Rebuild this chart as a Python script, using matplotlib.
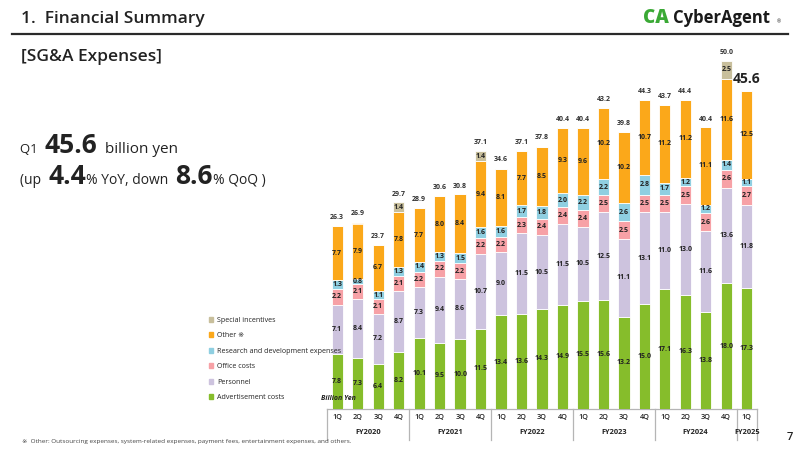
import matplotlib
matplotlib.use('Agg')
import matplotlib.pyplot as plt
import matplotlib.patches as mpatches
import matplotlib.transforms as mtransforms
import numpy as np

# Data (billion yen)
quarters = ['1Q', '2Q', '3Q', '4Q'] * 5 + ['1Q']
fiscal_years = ['FY2020', 'FY2021', 'FY2022', 'FY2023', 'FY2024', 'FY2025']
advertisement = [7.8, 7.3, 6.4, 8.2, 10.1, 9.5, 10.0, 11.5, 13.4, 13.6, 14.3, 14.9,
                 15.5, 15.6, 13.2, 15.0, 17.1, 16.3, 13.8, 18.0, 17.3]
personnel = [7.1, 8.4, 7.2, 8.7, 7.3, 9.4, 8.6, 10.7, 9.0, 11.5, 10.5, 11.5,
             10.5, 12.5, 11.1, 13.1, 11.0, 13.0, 11.6, 13.6, 11.8]
office = [2.2, 2.1, 2.1, 2.1, 2.2, 2.2, 2.2, 2.2, 2.2, 2.3, 2.4, 2.4,
          2.4, 2.5, 2.5, 2.5, 2.5, 2.5, 2.6, 2.6, 2.7]
rnd = [1.3, 0.8, 1.1, 1.3, 1.4, 1.3, 1.5, 1.6, 1.6, 1.7, 1.8, 2.0,
       2.2, 2.2, 2.6, 2.8, 1.7, 1.2, 1.2, 1.4, 1.1]
other = [7.7, 7.9, 6.7, 7.8, 7.7, 8.0, 8.4, 9.4, 8.1, 7.7, 8.5, 9.3,
         9.6, 10.2, 10.2, 10.7, 11.2, 11.2, 11.1, 11.6, 12.5]
special = [0, 0, 0, 1.4, 0, 0, 0, 1.4, 0, 0, 0, 0,
           0, 0, 0, 0, 0, 0, 0, 2.5, 0]
totals = [26.3, 26.9, 23.7, 29.7, 28.9, 30.6, 30.8, 37.1, 34.6, 37.1, 37.8, 40.4,
          40.4, 43.2, 39.8, 44.3, 43.7, 44.4, 40.4, 50.0, 45.6]

series = [
    ('Advertisement costs', advertisement, '#86bd2b'),
    ('Personnel', personnel, '#cdc3de'),
    ('Office costs', office, '#f7a1a6'),
    ('Research and development expenses', rnd, '#8fcfe1'),
    ('Other \u203b', other, '#fba81a'),
    ('Special incentives', special, '#c8bf9c'),
]

TXT = '#222222'
plt.rcParams['font.family'] = ['Open Sans', 'DejaVu Sans']

fig = plt.figure(figsize=(8, 4.5), dpi=100, facecolor='white')

# axes: x from 327px to 757px, baseline at 409px, 7 px per billion
ax = fig.add_axes([327 / 800, 1 - 409 / 450, 430 / 800, 385 / 450])
ax.set_xlim(-0.5, 20.5)
ax.set_ylim(0, 55)
ax.axis('off')

x = np.arange(len(totals))
bottom = np.zeros(len(totals))
for name, vals, col in series:
    vals = np.array(vals)
    ax.bar(x, vals, width=0.55, bottom=bottom, color=col,
           edgecolor='white', linewidth=0.6, label=name, zorder=3)
    for xi, b, v in zip(x, bottom, vals):
        if v > 0:
            ax.text(xi, b + v / 2, f'{v:.1f}', ha='center', va='center',
                    fontsize=5, fontweight='bold', color=TXT, zorder=4)
    bottom = bottom + vals

for xi, t in zip(x[:-1], totals[:-1]):
    ax.text(xi, t + 0.5, f'{t:.1f}', ha='center', va='bottom',
            fontsize=5, fontweight='bold', color='#333333')
ax.text(x[-1], totals[-1] + 0.5, f'{totals[-1]:.1f}', ha='center', va='bottom',
        fontsize=10, fontweight='bold', color=TXT)

# category axis frame
trans = mtransforms.blended_transform_factory(ax.transData, ax.transAxes)
LINE = '#b5b5b5'
ax.plot([-0.5, 20.5], [0, 0], color=LINE, lw=0.9, transform=trans, clip_on=False)
for sep in [-0.5, 3.5, 7.5, 11.5, 15.5, 19.5, 20.5]:
    ax.plot([sep, sep], [0, -31 / 385], color=LINE, lw=0.9,
            transform=trans, clip_on=False)
for xi, q in zip(x, quarters):
    ax.text(xi, -9 / 385, q, ha='center', va='center', fontsize=5.3,
            fontweight='semibold', color=TXT, transform=trans)
fy_centers = [1.5, 5.5, 9.5, 13.5, 17.5, 20]
for xc, fy in zip(fy_centers, fiscal_years):
    ax.text(xc, -23 / 385, fy, ha='center', va='center', fontsize=5.3,
            fontweight='bold', color=TXT, transform=trans)

fig.text(338 / 800, 1 - 398 / 450, 'Billion Yen', ha='center', va='center',
         fontsize=5, fontweight='bold', style='italic', color=TXT)

# legend
handles = [mpatches.Patch(color=c, label=n) for n, _, c in series][::-1]
leg = fig.legend(handles=handles, loc='upper left',
                 bbox_to_anchor=(205 / 800, 1 - 313 / 450), frameon=False,
                 fontsize=5.1, handlelength=0.7, handleheight=0.7,
                 handletextpad=0.5, labelspacing=1.2, borderpad=0)
for t in leg.get_texts():
    t.set_color(TXT)

# header
fig.text(21 / 800, 1 - 19 / 450, '1.  Financial Summary', ha='left', va='center',
         fontsize=12.5, fontweight='semibold', color=TXT)
fig.add_artist(plt.Line2D([12 / 800, 788 / 800], [1 - 34 / 450, 1 - 34 / 450],
                          color='#2a2a2a', lw=1.6))
fig.text(21 / 800, 1 - 57 / 450, '[SG&A Expenses]', ha='left', va='center',
         fontsize=12.5, fontweight='semibold', color=TXT)

# logo
fig.text(643 / 800, 1 - 18 / 450, 'CA', ha='left', va='center', fontsize=13.5,
         fontweight='heavy', color='#3aa935')
fig.text(673 / 800, 1 - 18 / 450, 'CyberAgent', ha='left', va='center',
         fontsize=12, fontweight='bold', color='#1a1a1a')
fig.text(777 / 800, 1 - 22 / 450, '\u00ae', ha='left', va='center', fontsize=3.5,
         color='#1a1a1a')


# headline with mixed sizes, pieces placed one after another on a baseline
def text_run(parts, x0, y0):
    renderer = fig.canvas.get_renderer()
    xpos = x0
    for s, size, weight in parts:
        t = fig.text(xpos / 800, 1 - y0 / 450, s, ha='left', va='baseline',
                     fontsize=size, fontweight=weight, color=TXT)
        xpos += t.get_window_extent(renderer=renderer).width


text_run([('Q1  ', 9.5, 'normal'), ('45.6', 19, 'bold'),
          ('  billion yen', 11, 'normal')], 20, 153)
text_run([('(up  ', 10, 'normal'), ('4.4', 19, 'bold'),
          ('% YoY, down  ', 10, 'normal'), ('8.6', 19, 'bold'),
          ('% QoQ )', 10, 'normal')], 20, 184)

fig.text(22 / 800, 1 - 441 / 450,
         '\u203b  Other: Outsourcing expenses, system-related expenses, payment fees, '
         'entertainment expenses, and others.',
         ha='left', va='center', fontsize=4.6, color='#444444')
fig.text(790 / 800, 1 - 437 / 450, '7', ha='center', va='center',
         fontsize=8, fontweight='semibold', color=TXT)

fig.savefig('out.png', dpi=100, facecolor='white')
